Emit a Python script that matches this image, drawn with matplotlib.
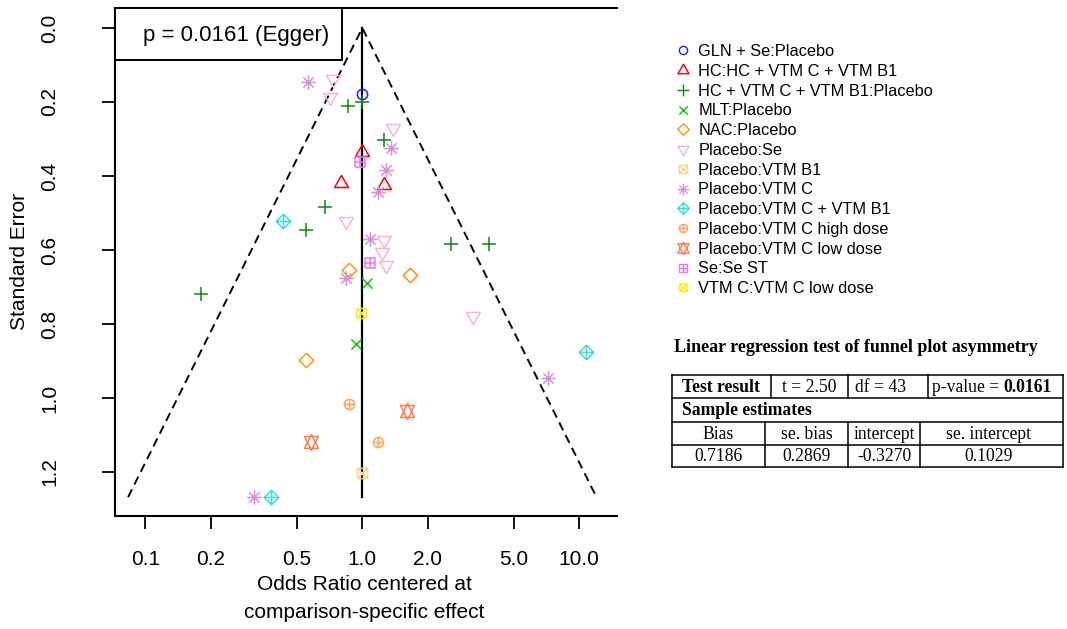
import numpy as np
import matplotlib
matplotlib.use("Agg")
import matplotlib.pyplot as plt
from matplotlib.path import Path
from matplotlib.lines import Line2D
from matplotlib.patches import Rectangle

plt.rcParams['font.family'] = ['Liberation Sans', 'DejaVu Sans']

# ---------------- data ----------------
comparisons = [
    "GLN + Se:Placebo",
    "HC:HC + VTM C + VTM B1",
    "HC + VTM C + VTM B1:Placebo",
    "MLT:Placebo",
    "NAC:Placebo",
    "Placebo:Se",
    "Placebo:VTM B1",
    "Placebo:VTM C",
    "Placebo:VTM C + VTM B1",
    "Placebo:VTM C high dose",
    "Placebo:VTM C low dose",
    "Se:Se ST",
    "VTM C:VTM C low dose",
]
colors = ["#1f1fff", "#ff0000", "#0a8a0a", "#00cc00", "#ff9900", "#ffb6c1",
          "#f8d68a", "#da8fda", "#40e0d0", "#ffa25c", "#ff7f50", "#ee77ee", "#ffee00"]
pch_codes = [1, 2, 3, 4, 5, 6, 7, 8, 9, 10, 11, 12, 13]

odds_ratios = [
    [1.00],
    [1.00, 0.80, 1.255],
    [1.00, 0.862, 1.259, 0.675, 0.549, 0.18, 2.56, 3.85],
    [1.048, 0.935],
    [0.868, 1.66, 0.55],
    [0.735, 0.71, 1.39, 0.841, 1.263, 1.228, 1.282, 3.25],
    [1.00],
    [0.564, 1.35, 1.286, 1.185, 1.085, 0.839, 0.317, 7.2],
    [0.432, 0.378, 10.7],
    [0.868, 1.177],
    [1.60, 0.578],
    [0.976, 1.085],
    [0.99],
]
std_errors = [
    [0.178],
    [0.334, 0.420, 0.424],
    [0.199, 0.211, 0.303, 0.483, 0.546, 0.720, 0.584, 0.584],
    [0.688, 0.854],
    [0.654, 0.668, 0.897],
    [0.139, 0.186, 0.271, 0.522, 0.573, 0.605, 0.641, 0.778],
    [1.204],
    [0.145, 0.323, 0.384, 0.442, 0.571, 0.677, 1.268, 0.947],
    [0.522, 1.268, 0.875],
    [1.017, 1.120],
    [1.034, 1.118],
    [0.361, 0.636],
    [0.771],
]

x_ticks = [0.1, 0.2, 0.5, 1.0, 2.0, 5.0, 10.0]
x_tick_labels = ["0.1", "0.2", "0.5", "1.0", "2.0", "5.0", "10.0"]
y_ticks = [0.0, 0.2, 0.4, 0.6, 0.8, 1.0, 1.2]
y_tick_labels = ["0.0", "0.2", "0.4", "0.6", "0.8", "1.0", "1.2"]

egger_label = "p = 0.0161 (Egger)"
table_title = "Linear regression test of funnel plot asymmetry"
test_t = "t = 2.50"
test_df = "df = 43"
test_p = "0.0161"
est_headers = ["Bias", "se. bias", "intercept", "se. intercept"]
est_values = ["0.7186", "0.2869", "-0.3270", "0.1029"]

# ---------------- R-like plotting symbols ----------------
MV, LT = Path.MOVETO, Path.LINETO


def polylines(lines):
    verts, codes = [], []
    for pl in lines:
        for i, v in enumerate(pl):
            verts.append(v)
            codes.append(MV if i == 0 else LT)
    return Path(verts, codes)


S2 = 1.414
tri_up = [(0, 1.555), (1.347, -0.778), (-1.347, -0.778), (0, 1.555)]
tri_dn = [(0, -1.555), (1.347, 0.778), (-1.347, 0.778), (0, -1.555)]
plus1 = [[(-1, 0), (1, 0)], [(0, -1), (0, 1)]]
plusS = [[(-S2, 0), (S2, 0)], [(0, -S2), (0, S2)]]
cross1 = [[(-1, -1), (1, 1)], [(-1, 1), (1, -1)]]
square = [(-1, -1), (1, -1), (1, 1), (-1, 1), (-1, -1)]
diamond = [(0, S2), (S2, 0), (0, -S2), (-S2, 0), (0, S2)]
circle = Path.unit_circle()

pch_paths = {
    1: circle,
    2: polylines([tri_up]),
    3: polylines(plusS),
    4: polylines(cross1),
    5: polylines([diamond]),
    6: polylines([tri_dn]),
    7: polylines([square] + cross1),
    8: polylines(cross1 + plusS),
    9: polylines([diamond] + plusS),
    10: Path.make_compound_path(circle, polylines(plus1)),
    11: polylines([[(0, -1.555), (1.347, 1.166), (-1.347, 1.166), (0, -1.555)],
                   [(0, 1.555), (1.347, -1.166), (-1.347, -1.166), (0, 1.555)]]),
    12: polylines([square] + plus1),
    13: Path.make_compound_path(circle, polylines(cross1)),
}
R_PT = 3.7  # symbol radius in points


def msize(path):
    return 2 * np.max(np.abs(path.vertices)) * R_PT


# ---------------- figure ----------------
W, H = 1067, 629
fig = plt.figure(figsize=(W / 100, H / 100), dpi=100)


def fx(px):
    return px / W


def fy(py):
    return 1 - py / H


ax_l, ax_r, ax_t, ax_b = 115, 617, 8, 516
ax = fig.add_axes([fx(ax_l), fy(ax_b), (ax_r - ax_l) / W, (ax_b - ax_t) / H])

ax.set_xscale('log')

# funnel
se_max = max(max(s) for s in std_errors)
lim = 1.96 * se_max
ax.plot([np.exp(-lim), 1.0, np.exp(lim)], [se_max, 0.0, se_max], color='black',
        lw=1.4, linestyle=(0, (4.5, 2.8)), zorder=1)
ax.plot([1.0, 1.0], [0.0, se_max], color='black', lw=1.6, zorder=1)

handles = []
for name, col, pch, ors, ses in zip(comparisons, colors, pch_codes, odds_ratios, std_errors):
    p = pch_paths[pch]
    ax.plot(ors, ses, linestyle='none', marker=p, markersize=msize(p),
            markerfacecolor='none', markeredgecolor=col, markeredgewidth=1.1, zorder=3)
    handles.append(Line2D([], [], linestyle='none', marker=p, markersize=msize(p) * 0.8,
                          markerfacecolor='none', markeredgecolor=col, markeredgewidth=1.0))

ax.set_xlim(10 ** ((ax_l - 362.3) / 217), 10 ** ((ax_r - 362.3) / 217))
ax.set_ylim((ax_b - 28) / 370, (ax_t - 28) / 370)

ax.set_xticks(x_ticks)
ax.set_xticklabels(x_tick_labels, fontsize=15)
ax.xaxis.set_minor_locator(matplotlib.ticker.NullLocator())
ax.set_yticks(y_ticks)
ax.set_yticklabels(y_tick_labels, fontsize=15, rotation=90, va='center')
ax.tick_params(axis='x', length=9.4, width=1.3, pad=15)
ax.tick_params(axis='y', length=9.4, width=1.3, pad=31)
for side in ['left', 'bottom', 'top']:
    ax.spines[side].set_linewidth(1.5)
ax.spines['right'].set_visible(False)

# Egger box
ax.add_patch(Rectangle((0, 1 - (60 - ax_t) / (ax_b - ax_t)), (342 - ax_l) / (ax_r - ax_l),
                       (60 - ax_t) / (ax_b - ax_t), transform=ax.transAxes, facecolor='white',
                       edgecolor='black', lw=1.4, clip_on=False, zorder=4))
ax.text((236 - ax_l) / (ax_r - ax_l), 1 - (35 - ax_t) / (ax_b - ax_t), egger_label,
        transform=ax.transAxes, ha='center', va='center', fontsize=16, zorder=5)

# axis labels
fig.text(fx(20), fy(262), "Standard Error", rotation=90, ha='center', va='center', fontsize=15)
fig.text(fx(364), fy(584), "Odds Ratio centered at", ha='center', va='center', fontsize=15)
fig.text(fx(364), fy(613), "comparison-specific effect", ha='center', va='center', fontsize=15)

# legend
fig.legend(handles, comparisons, loc='upper left', bbox_to_anchor=(fx(675), fy(44)),
           frameon=False, fontsize=11.8, labelspacing=0.29, handlelength=1.0,
           handletextpad=0.42, borderaxespad=0, borderpad=0)

# ---------------- regression table ----------------
serif = ['Liberation Serif', 'DejaVu Serif']
tfs = 12.7
fig.text(fx(674), fy(348), table_title, fontfamily=serif, fontweight='bold', fontsize=13.0,
         ha='left', va='center')

tl, tr = 672, 1063
rows_y = [375, 397.7, 421.7, 445, 466.7]


def hline(y, x0, x1):
    fig.add_artist(Line2D([fx(x0), fx(x1)], [fy(y), fy(y)], color='black', lw=1.1))


def vline(x, y0, y1):
    fig.add_artist(Line2D([fx(x), fx(x)], [fy(y0), fy(y1)], color='black', lw=1.1))


for y in rows_y:
    hline(y, tl, tr)
vline(tl, rows_y[0], rows_y[-1])
vline(tr, rows_y[0], rows_y[-1])
for x in [771, 848, 928]:
    vline(x, rows_y[0], rows_y[1])
for x in [765, 848, 920]:
    vline(x, rows_y[2], rows_y[4])

r1, r2, r3, r4 = [(rows_y[i] + rows_y[i + 1]) / 2 + 1 for i in range(4)]
fig.text(fx(682), fy(r1), "Test result", fontfamily=serif, fontweight='bold', fontsize=tfs,
         ha='left', va='center')
fig.text(fx(809.5), fy(r1), test_t, fontfamily=serif, fontsize=tfs, ha='center', va='center')
fig.text(fx(855), fy(r1), test_df, fontfamily=serif, fontsize=tfs, ha='left', va='center')
pv = fig.text(fx(932), fy(r1), "p-value = ", fontfamily=serif, fontsize=tfs, ha='left',
              va='center')
renderer = fig.canvas.get_renderer()
bb = pv.get_window_extent(renderer)
fig.text(bb.x1 / W, fy(r1), test_p, fontfamily=serif, fontweight='bold', fontsize=tfs,
         ha='left', va='center')
fig.text(fx(682), fy(r2), "Sample estimates", fontfamily=serif, fontweight='bold', fontsize=tfs,
         ha='left', va='center')
col_centers = [(tl + 765) / 2, (765 + 848) / 2, (848 + 920) / 2, (920 + tr) / 2 - 3]
for cx, txt in zip(col_centers, est_headers):
    fig.text(fx(cx), fy(r3), txt, fontfamily=serif, fontsize=tfs, ha='center', va='center')
for cx, txt in zip(col_centers, est_values):
    fig.text(fx(cx), fy(r4), txt, fontfamily=serif, fontsize=tfs, ha='center', va='center')

fig.savefig("out.png", dpi=100)
